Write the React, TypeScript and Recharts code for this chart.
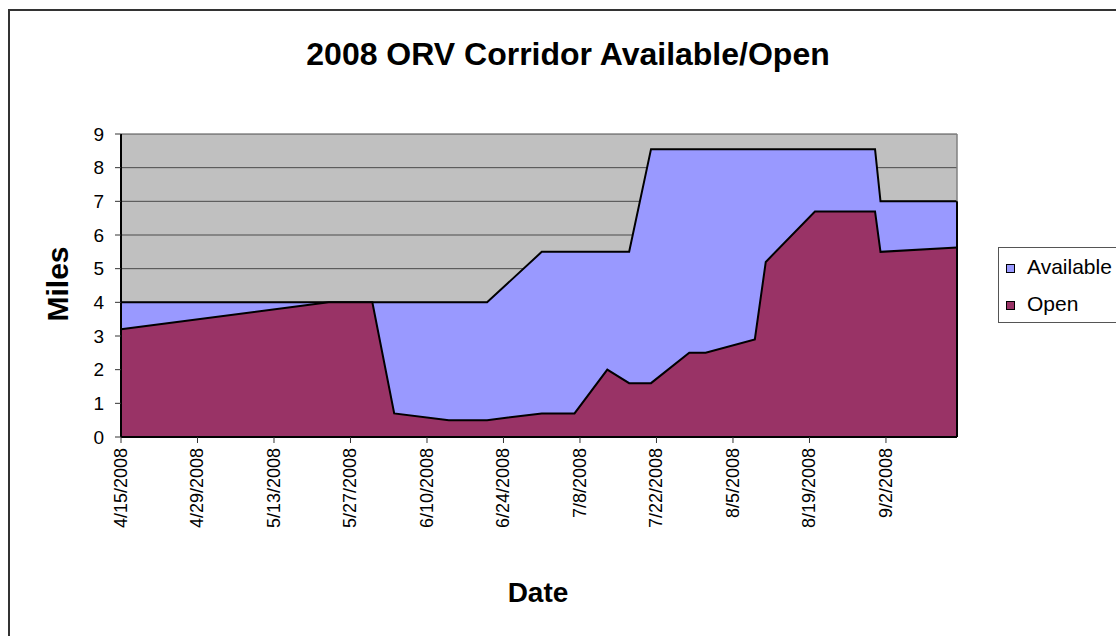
import React from 'react';
import { AreaChart, Area, XAxis, YAxis, CartesianGrid, ReferenceLine } from 'recharts';

// sample dates (every point both series were read at)
const dates = [
  '4/15/2008', '5/23/2008', '5/31/2008', '6/4/2008', '6/14/2008', '6/21/2008', '7/1/2008',
  '7/7/2008', '7/13/2008', '7/17/2008', '7/21/2008', '7/28/2008', '7/31/2008', '8/9/2008',
  '8/11/2008', '8/20/2008', '8/31/2008', '9/1/2008', '9/15/2008',
];
const available = [4, 4, 4, 4, 4, 4, 5.5, 5.5, 5.5, 5.5, 8.55, 8.55, 8.55, 8.55, 8.55, 8.55, 8.55, 7, 7];
const open = [3.2, 4, 4, 0.7, 0.5, 0.5, 0.7, 0.7, 2, 1.6, 1.6, 2.5, 2.5, 2.9, 5.2, 6.7, 6.7, 5.5, 5.63];

const tickDates = [
  '4/15/2008', '4/29/2008', '5/13/2008', '5/27/2008', '6/10/2008', '6/24/2008',
  '7/8/2008', '7/22/2008', '8/5/2008', '8/19/2008', '9/2/2008',
];
const yTicks = [0, 1, 2, 3, 4, 5, 6, 7, 8, 9];

const SERIES = [
  { key: 'available', name: 'Available', color: '#9999FF' },
  { key: 'open', name: 'Open', color: '#993366' },
];

const FONT = 'Arial, "Liberation Sans", sans-serif';

const toUtc = (s: string) => {
  const [m, d, y] = s.split('/').map(Number);
  return Date.UTC(y, m - 1, d);
};
const START = toUtc(dates[0]);
const toDay = (s: string) => Math.round((toUtc(s) - START) / 86400000);

const data = dates.map((d, i) => ({ day: toDay(d), available: available[i], open: open[i] }));
const xTicks = tickDates.map(toDay);
const tickLabel: Record<number, string> = {};
tickDates.forEach((t) => { tickLabel[toDay(t)] = t; });
const lastDay = data[data.length - 1].day;
const lastAvail = available[available.length - 1];

const DateTick = (props: any) => {
  const { x, y, payload } = props;
  return (
    <text
      transform={`translate(${x + 6},${y + 3}) rotate(-90)`}
      textAnchor="end"
      fontSize={18}
      fontFamily={FONT}
      fill="#000"
    >
      {tickLabel[payload.value]}
    </text>
  );
};

export default function App() {
  return (
    <div style={{ position: 'absolute', left: 0, top: 0, width: 1116, height: 636, overflow: 'hidden', background: '#fff' }}>
      <style>{'body{overflow:hidden}'}</style>
      <div
        style={{
          position: 'absolute', left: 8, top: 9, width: 1108, height: 627,
          borderTop: '2px solid #333', borderLeft: '2px solid #333', boxSizing: 'border-box',
        }}
      />
      <div style={{ position: 'absolute', left: 0, top: 0 }}>
        <AreaChart
          width={1116}
          height={636}
          data={data}
          margin={{ top: 134, right: 159, bottom: 69, left: 31 }}
        >
          <CartesianGrid vertical={false} stroke="#4a4a4a" fill="#C0C0C0" fillOpacity={1} />
          <XAxis
            dataKey="day"
            type="number"
            domain={[0, lastDay]}
            ticks={xTicks}
            interval={0}
            height={130}
            tick={<DateTick />}
            tickSize={6}
            tickLine={{ stroke: '#333' }}
            axisLine={{ stroke: '#000', strokeWidth: 2 }}
            label={{
              content: () => (
                <text x={538} y={602} textAnchor="middle" fontSize={28} fontWeight="bold" fontFamily={FONT} fill="#000">
                  Date
                </text>
              ),
            }}
          />
          <YAxis
            domain={[0, 9]}
            ticks={yTicks}
            interval={0}
            width={90}
            tickSize={6}
            tickMargin={11}
            tickLine={{ stroke: '#333' }}
            axisLine={{ stroke: '#000', strokeWidth: 2 }}
            tick={{ fontSize: 19, fontFamily: FONT, fill: '#000' }}
            label={{
              content: () => (
                <text
                  transform="translate(68,284) rotate(-90)"
                  textAnchor="middle"
                  fontSize={30}
                  fontWeight="bold"
                  fontFamily={FONT}
                  fill="#000"
                >
                  Miles
                </text>
              ),
            }}
          />
          {SERIES.map((s) => (
            <Area
              key={s.key}
              type="linear"
              dataKey={s.key}
              name={s.name}
              fill={s.color}
              fillOpacity={1}
              stroke="#000"
              strokeWidth={2}
              baseValue={0}
              dot={false}
              activeDot={false}
              isAnimationActive={false}
            />
          ))}
          <ReferenceLine segment={[{ x: lastDay, y: lastAvail }, { x: lastDay, y: 9 }]} stroke="#808080" strokeWidth={1.5} />
          <ReferenceLine segment={[{ x: lastDay, y: 0 }, { x: lastDay, y: lastAvail }]} stroke="#000" strokeWidth={2} />
        </AreaChart>
      </div>
      <svg width={1116} height={636} style={{ position: 'absolute', left: 0, top: 0, pointerEvents: 'none' }}>
        <text x={568} y={65} textAnchor="middle" fontSize={32} fontWeight="bold" fontFamily={FONT} fill="#000">
          2008 ORV Corridor Available/Open
        </text>
        <rect x={998.5} y={247.5} width={130} height={75} fill="#fff" stroke="#555" strokeWidth={1} />
        {SERIES.map((s, i) => (
          <g key={s.key}>
            <rect x={1006.5} y={264.5 + i * 37} width={8} height={8} fill={s.color} stroke="#000" strokeWidth={1} />
            <text x={1027} y={274 + i * 37} fontSize={21} fontFamily={FONT} fill="#000">
              {s.name}
            </text>
          </g>
        ))}
      </svg>
    </div>
  );
}
